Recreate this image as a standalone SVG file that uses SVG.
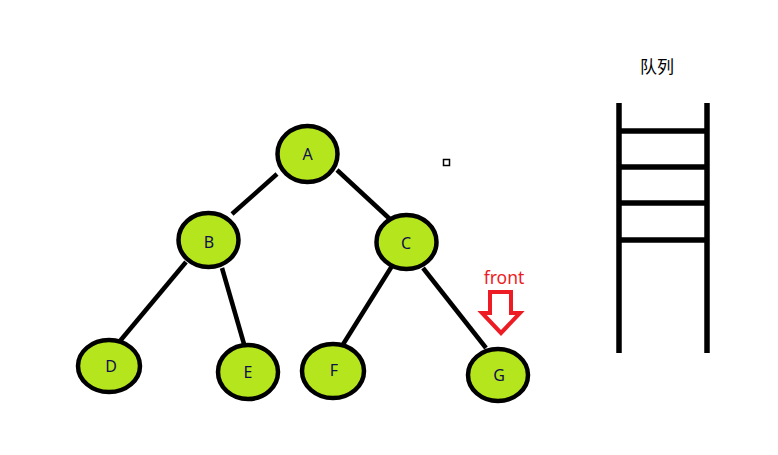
<svg xmlns="http://www.w3.org/2000/svg" width="778" height="455" viewBox="0 0 778 455">
<style>
.node ellipse{fill:#b5e61d;stroke:#000;stroke-width:4.5}
.node text{font-family:"Noto Sans","Liberation Sans",sans-serif;font-size:16px;fill:#10104a;text-anchor:middle}
.edge{stroke:#000;stroke-width:4.5;stroke-linecap:butt}
.bar{stroke:#000;stroke-width:5.5}
</style>
<rect width="778" height="455" fill="#fff"/>
<g id="connectors">
<line class="edge" x1="277" y1="174" x2="232" y2="214"/>
<line class="edge" x1="337" y1="170" x2="392" y2="221"/>
<line class="edge" x1="186" y1="262" x2="120" y2="341"/>
<line class="edge" x1="222" y1="268" x2="244" y2="344"/>
<line class="edge" x1="392" y1="266" x2="342" y2="346"/>
<line class="edge" x1="423" y1="268" x2="486" y2="348"/>
</g>
<g id="A" class="node"><ellipse cx="307.5" cy="154" rx="30" ry="28"/><text x="307.5" y="160">A</text></g>
<g id="B" class="node"><ellipse cx="208.5" cy="240" rx="30" ry="27"/><text x="209" y="248">B</text></g>
<g id="C" class="node"><ellipse cx="406.5" cy="242" rx="30" ry="27"/><text x="406" y="249">C</text></g>
<g id="D" class="node"><ellipse cx="109" cy="366" rx="31" ry="26"/><text x="111" y="372">D</text></g>
<g id="E" class="node"><ellipse cx="248" cy="372" rx="30" ry="27"/><text x="248" y="378">E</text></g>
<g id="F" class="node"><ellipse cx="333" cy="371" rx="31" ry="27"/><text x="334" y="376">F</text></g>
<g id="G" class="node"><ellipse cx="498" cy="375" rx="30" ry="26"/><text x="499" y="381">G</text></g>
<rect x="443.5" y="159.5" width="6" height="6" fill="none" stroke="#000" stroke-width="1.5"/>
<g id="front">
<text x="504" y="284" font-family="Noto Sans,Liberation Sans,sans-serif" font-size="17.5" fill="#ed1c24" text-anchor="middle">front</text>
<polygon points="490,292 511,292 511,313 520,313 501,333 482,313 490,313" fill="none" stroke="#ed1c24" stroke-width="4" stroke-linejoin="miter"/>
</g>
<g id="queue">
<text x="657" y="73" font-family="Noto Sans CJK SC,sans-serif" font-size="17" fill="#000" text-anchor="middle">队列</text>
<line class="bar" x1="619" y1="103" x2="619" y2="353"/>
<line class="bar" x1="707" y1="103" x2="707" y2="353"/>
<line class="bar" x1="619" y1="131" x2="707" y2="131"/>
<line class="bar" x1="619" y1="167" x2="707" y2="167"/>
<line class="bar" x1="619" y1="203" x2="707" y2="203"/>
<line class="bar" x1="619" y1="240" x2="707" y2="240"/>
</g>
</svg>
